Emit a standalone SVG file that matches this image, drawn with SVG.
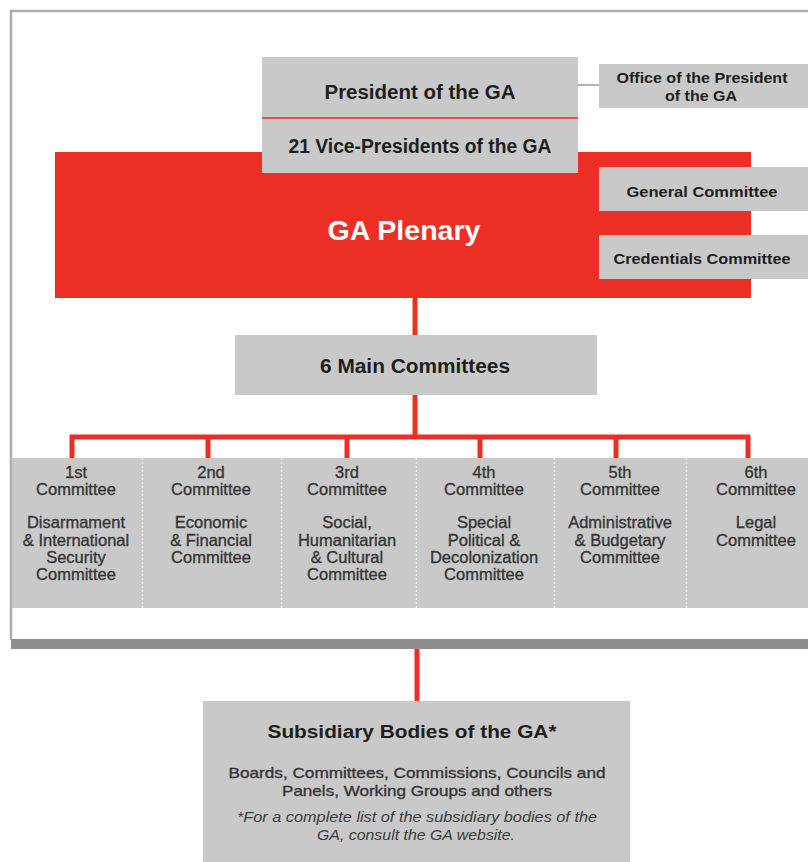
<svg xmlns="http://www.w3.org/2000/svg" width="808" height="862" viewBox="0 0 808 862">
<style>
.box{fill:#c9c9c9}
.red{fill:#ec2f25}
.ttl{font-family:"Liberation Sans",Arial,sans-serif;font-weight:bold;fill:#1e1e1e;text-anchor:middle}
.sm{font-family:"Liberation Sans",Arial,sans-serif;font-size:16.5px;fill:#363636;stroke:#363636;stroke-width:0.35;text-anchor:middle}
.it{font-family:"Liberation Sans",Arial,sans-serif;font-style:italic;font-size:14px;fill:#3c3c3c;text-anchor:middle}
.rl{stroke:#ec2f25;stroke-width:5;fill:none}
.sep{stroke:#ececec;stroke-width:1.5;stroke-dasharray:2 2}
</style>
<rect width="808" height="862" fill="#ffffff"/>
<g id="frame">
<path d="M11 640 V11 H808" fill="none" stroke="#adadad" stroke-width="2.5"/>
<rect x="11" y="639" width="797" height="10" fill="#8d8d8d"/>
</g>
<g id="connectors">
<line x1="578" y1="85" x2="599" y2="85" stroke="#9a9a9a" stroke-width="1.5"/>
<line class="rl" x1="415" y1="298" x2="415" y2="335"/>
<line class="rl" x1="415" y1="395" x2="415" y2="437"/>
<path class="rl" d="M72 458 V437 H748 V458"/>
<line class="rl" x1="208" y1="437" x2="208" y2="458"/>
<line class="rl" x1="347" y1="437" x2="347" y2="458"/>
<line class="rl" x1="480" y1="437" x2="480" y2="458"/>
<line class="rl" x1="616" y1="437" x2="616" y2="458"/>
<line class="rl" x1="417" y1="649" x2="417" y2="701"/>
</g>
<g id="plenary">
<rect class="red" x="55" y="152" width="696" height="146"/>
<text class="ttl" x="404" y="240" font-size="28" style="fill:#ffffff" textLength="153" lengthAdjust="spacingAndGlyphs">GA Plenary</text>
</g>
<g id="president">
<rect class="box" x="262" y="57" width="316" height="60"/>
<text class="ttl" x="420" y="99" font-size="20" textLength="191" lengthAdjust="spacingAndGlyphs">President of the GA</text>
</g>
<rect x="262" y="117" width="316" height="2" fill="#e0524a"/>
<g id="vice-presidents">
<rect class="box" x="262" y="119" width="316" height="54"/>
<text class="ttl" x="420" y="153" font-size="20" textLength="263" lengthAdjust="spacingAndGlyphs">21 Vice-Presidents of the GA</text>
</g>
<g id="office-president">
<rect class="box" x="599" y="64" width="209" height="44"/>
<text class="ttl" x="702" y="83" font-size="14.5" textLength="171" lengthAdjust="spacingAndGlyphs">Office of the President</text>
<text class="ttl" x="701" y="101" font-size="14.5" textLength="72" lengthAdjust="spacingAndGlyphs">of the GA</text>
</g>
<g id="general-committee">
<rect class="box" x="599" y="167" width="209" height="44"/>
<text class="ttl" x="702" y="197" font-size="15.5" textLength="151" lengthAdjust="spacingAndGlyphs">General Committee</text>
</g>
<g id="credentials-committee">
<rect class="box" x="599" y="235" width="209" height="44"/>
<text class="ttl" x="702" y="264" font-size="15.5" textLength="177" lengthAdjust="spacingAndGlyphs">Credentials Committee</text>
</g>
<g id="main-committees">
<rect class="box" x="235" y="335" width="362" height="60"/>
<text class="ttl" x="415" y="373" font-size="20" textLength="190" lengthAdjust="spacingAndGlyphs">6 Main Committees</text>
</g>
<g id="committees-row">
<rect class="box" x="12" y="458" width="796" height="150"/>
<line class="sep" x1="142.5" y1="458" x2="142.5" y2="608"/>
<line class="sep" x1="281.5" y1="458" x2="281.5" y2="608"/>
<line class="sep" x1="416.5" y1="458" x2="416.5" y2="608"/>
<line class="sep" x1="554.5" y1="458" x2="554.5" y2="608"/>
<line class="sep" x1="686.5" y1="458" x2="686.5" y2="608"/>
</g>
<g id="committee-1">
<text class="sm" x="76" y="478">1st</text>
<text class="sm" x="76" y="495">Committee</text>
<text class="sm" x="76" y="528">Disarmament</text>
<text class="sm" x="76" y="546">&amp; International</text>
<text class="sm" x="76" y="563">Security</text>
<text class="sm" x="76" y="580">Committee</text>
</g>
<g id="committee-2">
<text class="sm" x="211" y="478">2nd</text>
<text class="sm" x="211" y="495">Committee</text>
<text class="sm" x="211" y="528">Economic</text>
<text class="sm" x="211" y="546">&amp; Financial</text>
<text class="sm" x="211" y="563">Committee</text>
</g>
<g id="committee-3">
<text class="sm" x="347" y="478">3rd</text>
<text class="sm" x="347" y="495">Committee</text>
<text class="sm" x="347" y="528">Social,</text>
<text class="sm" x="347" y="546">Humanitarian</text>
<text class="sm" x="347" y="563">&amp; Cultural</text>
<text class="sm" x="347" y="580">Committee</text>
</g>
<g id="committee-4">
<text class="sm" x="484" y="478">4th</text>
<text class="sm" x="484" y="495">Committee</text>
<text class="sm" x="484" y="528">Special</text>
<text class="sm" x="484" y="546">Political &amp;</text>
<text class="sm" x="484" y="563">Decolonization</text>
<text class="sm" x="484" y="580">Committee</text>
</g>
<g id="committee-5">
<text class="sm" x="620" y="478">5th</text>
<text class="sm" x="620" y="495">Committee</text>
<text class="sm" x="620" y="528">Administrative</text>
<text class="sm" x="620" y="546">&amp; Budgetary</text>
<text class="sm" x="620" y="563">Committee</text>
</g>
<g id="committee-6">
<text class="sm" x="756" y="478">6th</text>
<text class="sm" x="756" y="495">Committee</text>
<text class="sm" x="756" y="528">Legal</text>
<text class="sm" x="756" y="546">Committee</text>
</g>
<g id="subsidiary-bodies">
<rect class="box" x="203" y="701" width="427" height="161"/>
<text class="ttl" x="412" y="738" font-size="18" textLength="289" lengthAdjust="spacingAndGlyphs">Subsidiary Bodies of the GA*</text>
<text class="sm" x="417" y="778" style="font-size:15px" textLength="377" lengthAdjust="spacingAndGlyphs">Boards, Committees, Commissions, Councils and</text>
<text class="sm" x="417" y="796" style="font-size:15px" textLength="270" lengthAdjust="spacingAndGlyphs">Panels, Working Groups and others</text>
<text class="it" x="417" y="822" textLength="360" lengthAdjust="spacingAndGlyphs">*For a complete list of the subsidiary bodies of the</text>
<text class="it" x="416" y="840" textLength="198" lengthAdjust="spacingAndGlyphs">GA, consult the GA website.</text>
</g>
</svg>
